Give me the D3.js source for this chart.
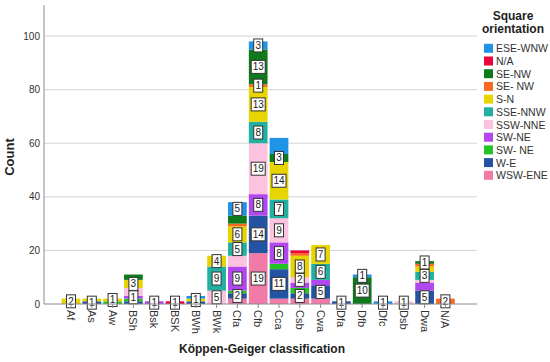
<!DOCTYPE html>
<html><head><meta charset="utf-8">
<script src="https://cdn.jsdelivr.net/npm/d3@7"></script>
<style>body{margin:0;background:#fff}svg{font-family:Arial,"Liberation Sans",sans-serif}</style>
</head><body><svg id="c" width="550" height="362"></svg>
<script>
const categories = ["Af","As","Aw","BSh","Bsk","BSK","BWh","BWk","Cfa","Cfb","Cca","Csb","Cwa","Dfa","Dfb","Dfc","Dsb","Dwa","N/A"];
// legend order (top of legend = top of stack)
const seriesNames = ["ESE-WNW","N/A","SE-NW","SE- NW","S-N","SSE-NNW","SSW-NNE","SW-NE","SW- NE","W-E","WSW-ENE"];
const seriesColors = ["#1f93e8","#e8063c","#0e7a1c","#fb6a22","#e8d400","#22b0a2","#fcc2df","#b246ef","#22c524","#2453a3","#f27aa9"];
const vESE_WNW = [0,0,0,0,0,0,1,0,5,3,6,0,0,0,1,1,0,0,0];
const vNA      = [0,0,0,0,0,1,0,0,0,0,0,1,0,0,0,0,0,0,0];
const vSE_NW   = [0,0,0,2,0,0,0,0,3,13,3,0,0,0,10,0,0,1,0];
const vSE_NW2  = [0,0,0,0,0,0,0,0,1,1,0,1,0,0,0,0,0,1,2];
const vS_N     = [2,1,1,3,0,0,1,4,6,13,14,8,7,0,0,0,0,2,0];
const vSSE_NNW = [0,0,0,0,0,0,0,9,5,8,7,0,6,0,0,0,0,3,0];
const vSSW_NNE = [0,0,0,3,0,0,0,5,4,19,9,2,0,0,0,0,1,1,0];
const vSW_NE   = [0,0,0,1,1,0,0,0,9,8,8,2,2,0,0,0,0,3,0];
const vSW_NE2  = [0,0,1,1,0,0,0,0,1,0,2,2,0,0,0,0,0,0,0];
const vW_E     = [0,1,0,1,0,0,1,0,2,14,11,2,5,1,0,0,0,5,0];
const vWSW_ENE = [0,0,0,0,0,0,0,0,2,19,2,2,2,0,0,0,0,0,0];
const seriesValues = [vESE_WNW,vNA,vSE_NW,vSE_NW2,vS_N,vSSE_NNW,vSSW_NNE,vSW_NE,vSW_NE2,vW_E,vWSW_ENE];
const labelled = ["Af|S-N","As|W-E","Aw|S-N","BSh|SW-NE","BSh|S-N","Bsk|SW-NE","BSK|N/A","BWh|S-N",
 "BWk|SSW-NNE","BWk|SSE-NNW","BWk|S-N","Cfa|W-E","Cfa|SW-NE","Cfa|SSE-NNW","Cfa|S-N","Cfa|ESE-WNW",
 "Cfb|WSW-ENE","Cfb|W-E","Cfb|SW-NE","Cfb|SSW-NNE","Cfb|SSE-NNW","Cfb|S-N","Cfb|SE- NW","Cfb|SE-NW","Cfb|ESE-WNW",
 "Cca|W-E","Cca|SW-NE","Cca|SSW-NNE","Cca|SSE-NNW","Cca|S-N","Cca|SE-NW","Csb|W-E","Csb|SSW-NNE","Csb|S-N",
 "Cwa|W-E","Cwa|SSE-NNW","Cwa|S-N","Dfa|W-E","Dfb|SE-NW","Dfb|ESE-WNW","Dfc|ESE-WNW","Dsb|SSW-NNE",
 "Dwa|W-E","Dwa|SSE-NNW","Dwa|SE-NW","N/A|SE- NW"];
const yTicks = [0,20,40,60,80,100];

const svg = d3.select("#c");
const x = d3.scaleBand().domain(categories).range([60.6,455.8]).paddingInner(0.1).paddingOuter(0.05);
const y = d3.scaleLinear().domain([0,111.6]).range([304,5]);
const xL = 44, xR = 477;

// gridlines
svg.append("g").selectAll("line").data(yTicks.filter(d=>d>0)).join("line")
  .attr("x1",xL).attr("x2",xR).attr("y1",d=>y(d)).attr("y2",d=>y(d))
  .attr("stroke","#d4d4d4").attr("stroke-width",1);

// stacked data, bottom = last series
const stackOrder = seriesNames.slice().reverse();
const rows = categories.map((c,i)=>{const o={cat:c}; seriesNames.forEach((s,j)=>o[s]=seriesValues[j][i]); return o;});
const stacked = d3.stack().keys(stackOrder)(rows);
const colorOf = d3.scaleOrdinal().domain(seriesNames).range(seriesColors);

const gBars = svg.append("g");
stacked.forEach(layer=>{
  gBars.append("g").attr("fill",colorOf(layer.key)).selectAll("rect")
   .data(layer.filter(d=>d[1]-d[0]>0)).join("rect")
   .attr("x",d=>x(d.data.cat)).attr("width",x.bandwidth())
   .attr("y",d=>y(d[1])).attr("height",d=>y(d[0])-y(d[1]));
});
// labels
const gLab = svg.append("g").attr("font-size",10).attr("fill","#222");
stacked.forEach(layer=>{
  layer.forEach(d=>{
    const v=d[1]-d[0];
    if(v<=0 || !labelled.includes(d.data.cat+"|"+layer.key)) return;
    const cx=x(d.data.cat)+x.bandwidth()/2, cy=y((d[0]+d[1])/2);
    const w = String(v).length>1?14:9;
    gLab.append("rect").attr("x",cx-w/2).attr("y",cy-6.5).attr("width",w).attr("height",13)
      .attr("fill","#fff").attr("stroke","#333").attr("stroke-width",1);
    gLab.append("text").attr("x",cx).attr("y",cy+3.5).attr("text-anchor","middle").text(v);
  });
});

// axes lines
svg.append("line").attr("x1",xL).attr("x2",xL).attr("y1",y(111.6)).attr("y2",304).attr("stroke","#8a8a8a");
svg.append("line").attr("x1",xL).attr("x2",xR).attr("y1",304).attr("y2",304).attr("stroke","#8a8a8a");
// y tick labels
svg.append("g").selectAll("text").data(yTicks).join("text")
  .attr("x",40).attr("y",d=>y(d)+3.5).attr("text-anchor","end").attr("font-size",10).attr("fill","#333").text(d=>d);
// x ticks and labels
svg.append("g").selectAll("line").data(categories).join("line")
  .attr("x1",d=>x(d)+x.bandwidth()/2).attr("x2",d=>x(d)+x.bandwidth()/2).attr("y1",304).attr("y2",308).attr("stroke","#8a8a8a");
svg.append("g").selectAll("text").data(categories).join("text")
  .attr("transform",d=>`translate(${x(d)+x.bandwidth()/2-4},310) rotate(90)`)
  .attr("text-anchor","start").attr("font-size",11).attr("fill","#333").text(d=>d);

// titles
svg.append("text").attr("transform","translate(14,157) rotate(-90)").attr("text-anchor","middle")
  .attr("font-size",13).attr("font-weight","bold").attr("fill","#222").text("Count");
svg.append("text").attr("x",262).attr("y",353).attr("text-anchor","middle")
  .attr("font-size",12).attr("font-weight","bold").attr("fill","#222").text("Köppen-Geiger classification");

// legend
const lg = svg.append("g");
lg.append("text").attr("x",513).attr("y",20).attr("text-anchor","middle").attr("font-size",12).attr("font-weight","bold").attr("fill","#222").text("Square");
lg.append("text").attr("x",513).attr("y",33).attr("text-anchor","middle").attr("font-size",12).attr("font-weight","bold").attr("fill","#222").text("orientation");
const items = lg.selectAll("g.it").data(seriesNames).join("g").attr("class","it")
  .attr("transform",(d,i)=>`translate(484,${48.3+i*12.7})`);
items.append("rect").attr("x",0).attr("y",-4.5).attr("width",9).attr("height",9).attr("fill",d=>colorOf(d));
items.append("text").attr("x",12).attr("y",4).attr("font-size",10.5).attr("fill","#333").text(d=>d);
</script></body></html>
